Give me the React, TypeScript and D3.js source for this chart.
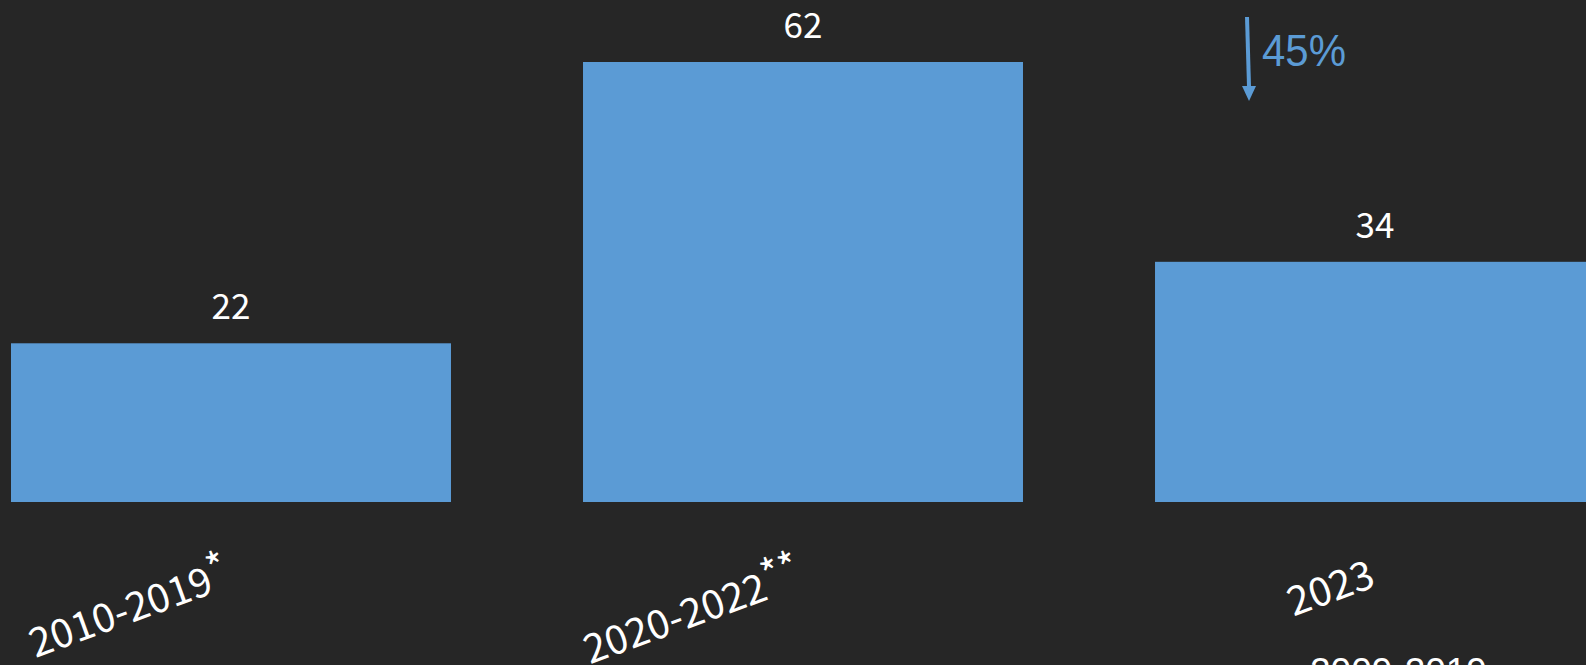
import React from "react";
import * as d3 from "d3";

const categories = ["2010-2019", "2020-2022", "2023"];
const footnoteMarks = ["*", "**", ""];
const values = [22.4, 62.1, 33.9];
const changeLabel = "45%";
const cutoffLegend = "2009-2019";

const W = 1586;
const H = 665;
const BG = "#262626";
const BAR = "#5B9BD5";
const CJK = "'Noto Sans CJK JP', 'Noto Sans', sans-serif";
const SANS = "'Liberation Sans', Arial, sans-serif";

export default function App() {
  const x = d3
    .scaleBand<string>()
    .domain(categories)
    .range([11, 1595])
    .paddingInner(0.2308)
    .paddingOuter(0)
    .align(0);
  const y = d3.scaleLinear().domain([0, d3.max(values) as number]).range([502, 62]);
  const fmt = d3.format(".0f");
  const bw = x.bandwidth();

  const thirdX = x(categories[2]) as number;
  const arrowX0 = thirdX + 92;
  const arrowX1 = thirdX + 94;
  const arrowTop = 17;
  const arrowTip = 101;

  return (
    <svg
      width={W}
      height={H}
      style={{ position: "absolute", left: 0, top: 0, display: "block", overflow: "hidden" }}
    >
      <rect x={0} y={0} width={W} height={H} fill={BG} />
      {categories.map((c, i) => {
        const bx = x(c) as number;
        const cx = bx + bw / 2;
        return (
          <g key={c}>
            <rect x={bx} y={y(values[i])} width={bw} height={y(0) - y(values[i])} fill={BAR} />
            <text
              x={cx}
              y={y(values[i]) - 24}
              textAnchor="middle"
              fill="#ffffff"
              fontFamily={CJK}
              fontSize={35}
            >
              {fmt(values[i])}
            </text>
            <text
              transform={`translate(${cx + 2},${586}) rotate(-20)`}
              textAnchor="end"
              fill="#ffffff"
              fontFamily={CJK}
              fontSize={40}
            >
              {c}
              {footnoteMarks[i] ? (
                <tspan dy={-9}>{footnoteMarks[i]}</tspan>
              ) : null}
            </text>
          </g>
        );
      })}
      {/* change annotation */}
      <line
        x1={arrowX0}
        y1={arrowTop}
        x2={arrowX1}
        y2={arrowTip - 14}
        stroke={BAR}
        strokeWidth={4}
      />
      <path
        d={`M${arrowX1 - 7},${arrowTip - 15} L${arrowX1 + 7},${arrowTip - 15} L${arrowX1},${arrowTip} Z`}
        fill={BAR}
      />
      <text
        x={arrowX1 + 13}
        y={66}
        fill={BAR}
        fontFamily={SANS}
        fontSize={45}
        textLength={84}
        lengthAdjust="spacingAndGlyphs"
      >
        {changeLabel}
      </text>
      <text x={1310} y={684} fill="#ffffff" fontFamily={SANS} fontSize={37}>
        {cutoffLegend}
      </text>
    </svg>
  );
}
